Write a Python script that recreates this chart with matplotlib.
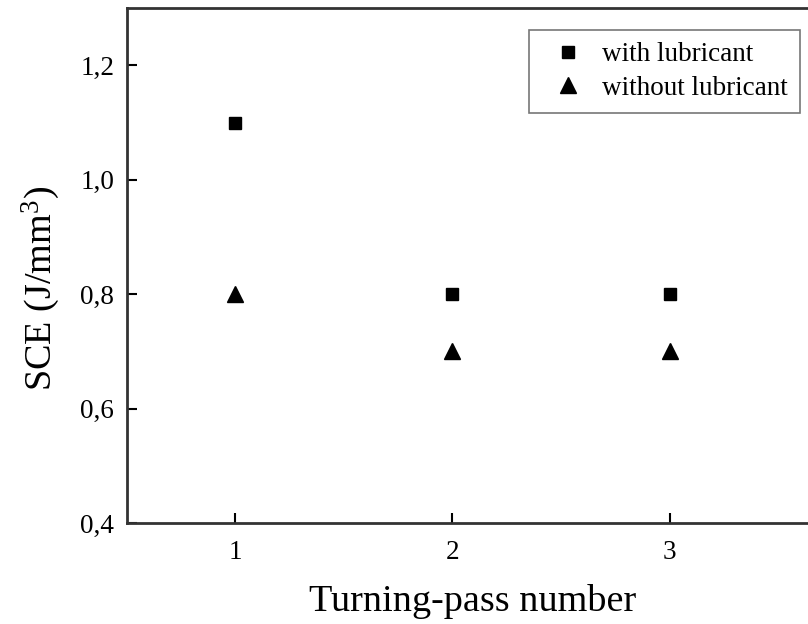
import matplotlib.pyplot as plt
from matplotlib.ticker import FuncFormatter

# data
passes = [1, 2, 3]
sce_with = [1.1, 0.8, 0.8]
sce_without = [0.8, 0.7, 0.7]
yticks = [0.4, 0.6, 0.8, 1.0, 1.2]

plt.rcParams['font.family'] = ['Liberation Serif', 'DejaVu Serif']
plt.rcParams['mathtext.default'] = 'regular'

fig = plt.figure(figsize=(8.08, 6.24), dpi=100)
# right part of the frame is cut off in the original
ax = fig.add_axes([0.157, 0.162, 0.857, 0.825])

ax.plot(passes, sce_with, 's', color='black', markersize=8.5, label='with lubricant')
ax.plot(passes, sce_without, '^', color='black', markersize=11, label='without lubricant')

ax.set_xlim(0.5, 3.69)
ax.set_ylim(0.4, 1.3)
ax.set_xticks(passes)
ax.set_yticks(yticks)
ax.yaxis.set_major_formatter(FuncFormatter(lambda v, p: f'{v:.1f}'.replace('.', ',')))
ax.tick_params(direction='in', length=7, width=1.5, labelsize=19.5)
ax.tick_params(axis='x', pad=12)
ax.tick_params(axis='y', pad=9)
for s in ax.spines.values():
    s.set_linewidth(2)
    s.set_color('#333333')

ax.set_xlabel('Turning-pass number', fontsize=27.5, labelpad=14)
ax.set_ylabel('SCE (J/mm$^{3}$)', fontsize=27.5)
ax.yaxis.set_label_coords(-0.093, 0.456)

leg = ax.legend(loc='upper right', bbox_to_anchor=(0.9725, 0.957), fontsize=19.5,
                frameon=True, fancybox=False, edgecolor='#555555',
                handletextpad=0.25, borderpad=0.45, labelspacing=0.3,
                handlelength=2.0, borderaxespad=0)
leg.get_frame().set_linewidth(1.2)

fig.savefig('out.png', dpi=100)
